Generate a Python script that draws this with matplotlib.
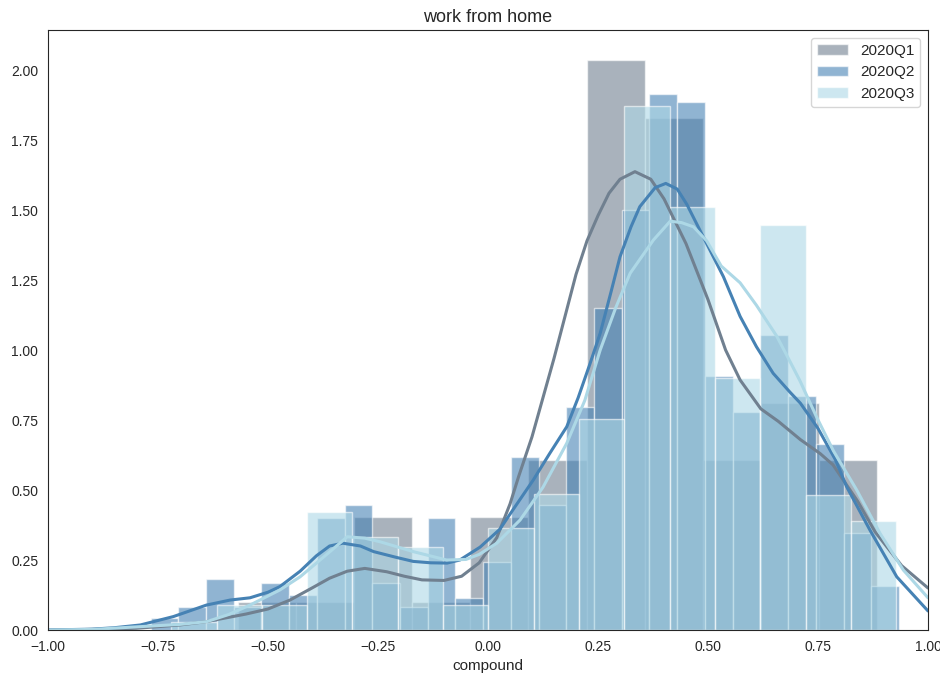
import matplotlib
matplotlib.use("Agg")
import matplotlib.pyplot as plt
import numpy as np
import seaborn as sns

sns.set_style("white")
plt.rcParams["font.family"] = ["Liberation Sans", "DejaVu Sans"]

LABELS = ["2020Q1", "2020Q2", "2020Q3"]
COLORS = ["slategray", "steelblue", "lightblue"]

# histogram bins (density)
q1_edges = [-0.568, -0.436, -0.304, -0.172, -0.040, 0.092, 0.224, 0.356, 0.488, 0.620, 0.752, 0.884]
q1_heights = [0.10, 0.10, 0.405, 0.10, 0.405, 0.607, 2.036, 1.83, 0.607, 0.81, 0.607]

q2_edges = [-0.767, -0.704, -0.641, -0.578, -0.515, -0.452, -0.389, -0.326, -0.263, -0.200,
            -0.137, -0.074, -0.011, 0.052, 0.115, 0.178, 0.241, 0.304, 0.367, 0.430,
            0.493, 0.556, 0.619, 0.682, 0.745, 0.808, 0.871, 0.934]
q2_heights = [0.042, 0.083, 0.182, 0.083, 0.167, 0.125, 0.40, 0.446, 0.167, 0.083,
              0.40, 0.113, 0.244, 0.617, 0.446, 0.796, 1.15, 1.50, 1.914, 1.885,
              0.908, 0.78, 1.054, 0.835, 0.664, 0.346, 0.157]

q3_edges = [-0.720, -0.617, -0.514, -0.411, -0.308, -0.205, -0.102, 0.001, 0.104, 0.207,
            0.310, 0.413, 0.516, 0.619, 0.722, 0.825, 0.928]
q3_heights = [0.03, 0.09, 0.09, 0.42, 0.333, 0.298, 0.09, 0.363, 0.486, 0.754,
              1.871, 1.512, 0.90, 1.446, 0.482, 0.39]

# kde curves
q1_kde_x = [-1.0, -0.9, -0.8, -0.7, -0.64, -0.55, -0.5, -0.45, -0.4, -0.36, -0.32, -0.28,
            -0.23, -0.19, -0.15, -0.1, -0.06, -0.02, 0.02, 0.05, 0.07, 0.1, 0.125, 0.15,
            0.175, 0.2, 0.225, 0.25, 0.275, 0.3, 0.334, 0.37, 0.4, 0.45, 0.5, 0.54, 0.573,
            0.62, 0.66, 0.71, 0.755, 0.784, 0.84, 0.88, 0.94, 1.0]
q1_kde_y = [0.0, 0.002, 0.006, 0.018, 0.03, 0.057, 0.075, 0.107, 0.15, 0.185, 0.21, 0.22,
            0.208, 0.192, 0.179, 0.177, 0.192, 0.24, 0.33, 0.45, 0.55, 0.69, 0.83, 0.97,
            1.12, 1.27, 1.39, 1.48, 1.56, 1.61, 1.637, 1.61, 1.54, 1.38, 1.18, 1.0, 0.893,
            0.79, 0.745, 0.68, 0.63, 0.59, 0.46, 0.35, 0.23, 0.15]

q2_kde_x = [-1.0, -0.9, -0.85, -0.79, -0.715, -0.64, -0.586, -0.541, -0.5, -0.473, -0.427,
            -0.39, -0.36, -0.33, -0.29, -0.26, -0.21, -0.17, -0.13, -0.093, -0.064, -0.018,
            0.027, 0.057, 0.103, 0.14, 0.179, 0.205, 0.232, 0.255, 0.28, 0.3, 0.325, 0.345,
            0.38, 0.404, 0.43, 0.452, 0.497, 0.535, 0.573, 0.61, 0.648, 0.686, 0.71, 0.75,
            0.79, 0.815, 0.868, 0.929, 1.0]
q2_kde_y = [0.0, 0.003, 0.008, 0.018, 0.048, 0.089, 0.107, 0.115, 0.135, 0.155, 0.21,
            0.265, 0.30, 0.31, 0.30, 0.28, 0.26, 0.245, 0.24, 0.239, 0.25, 0.296,
            0.36, 0.43, 0.536, 0.63, 0.726, 0.83, 0.952, 1.06, 1.21, 1.333, 1.44, 1.512,
            1.58, 1.595, 1.575, 1.52, 1.38, 1.262, 1.12, 1.012, 0.917, 0.85, 0.81, 0.72,
            0.607, 0.512, 0.357, 0.19, 0.068]

q3_kde_x = [-1.0, -0.9, -0.79, -0.7, -0.639, -0.59, -0.541, -0.473, -0.427, -0.359, -0.32,
            -0.28, -0.245, -0.17, -0.094, -0.05, -0.02, 0.02, 0.073, 0.125, 0.179, 0.22,
            0.255, 0.29, 0.323, 0.376, 0.414, 0.44, 0.467, 0.497, 0.53, 0.573, 0.61, 0.656,
            0.686, 0.709, 0.747, 0.785, 0.838, 0.891, 0.944, 1.0]
q3_kde_y = [0.0, 0.002, 0.012, 0.02, 0.03, 0.055, 0.089, 0.143, 0.19, 0.28, 0.333,
            0.328, 0.315, 0.28, 0.25, 0.252, 0.27, 0.31, 0.393, 0.51, 0.667, 0.82,
            1.0, 1.15, 1.274, 1.393, 1.46, 1.455, 1.44, 1.39, 1.3, 1.24, 1.16, 1.05,
            0.96, 0.89, 0.76, 0.64, 0.5, 0.345, 0.214, 0.115]

series = [
    (q1_edges, q1_heights, q1_kde_x, q1_kde_y),
    (q2_edges, q2_heights, q2_kde_x, q2_kde_y),
    (q3_edges, q3_heights, q3_kde_x, q3_kde_y),
]

fig = plt.figure(figsize=(9.4, 6.77), dpi=100)
ax = fig.add_axes([48 / 940, 1 - 630 / 677, 880 / 940, 600 / 677])

for (edges, heights, kx, ky), label, color in zip(series, LABELS, COLORS):
    edges = np.asarray(edges)
    ax.bar(edges[:-1], heights, width=np.diff(edges), align="edge",
           color=color, alpha=0.6, edgecolor="white", linewidth=1, label=label)
    ax.plot(kx, ky, color=color, linewidth=2.2)

ax.set_xlim(-1, 1)
ax.set_ylim(0, 2.143)
ax.set_xticks(np.arange(-1, 1.01, 0.25))
ax.set_yticks(np.arange(0, 2.01, 0.25))
ax.tick_params(labelsize=10, colors="#262626")
ax.set_xlabel("compound", fontsize=11)
ax.set_title("work from home", fontsize=13)
ax.legend(loc="upper right", fontsize=11)

fig.savefig("out.png", dpi=100)
